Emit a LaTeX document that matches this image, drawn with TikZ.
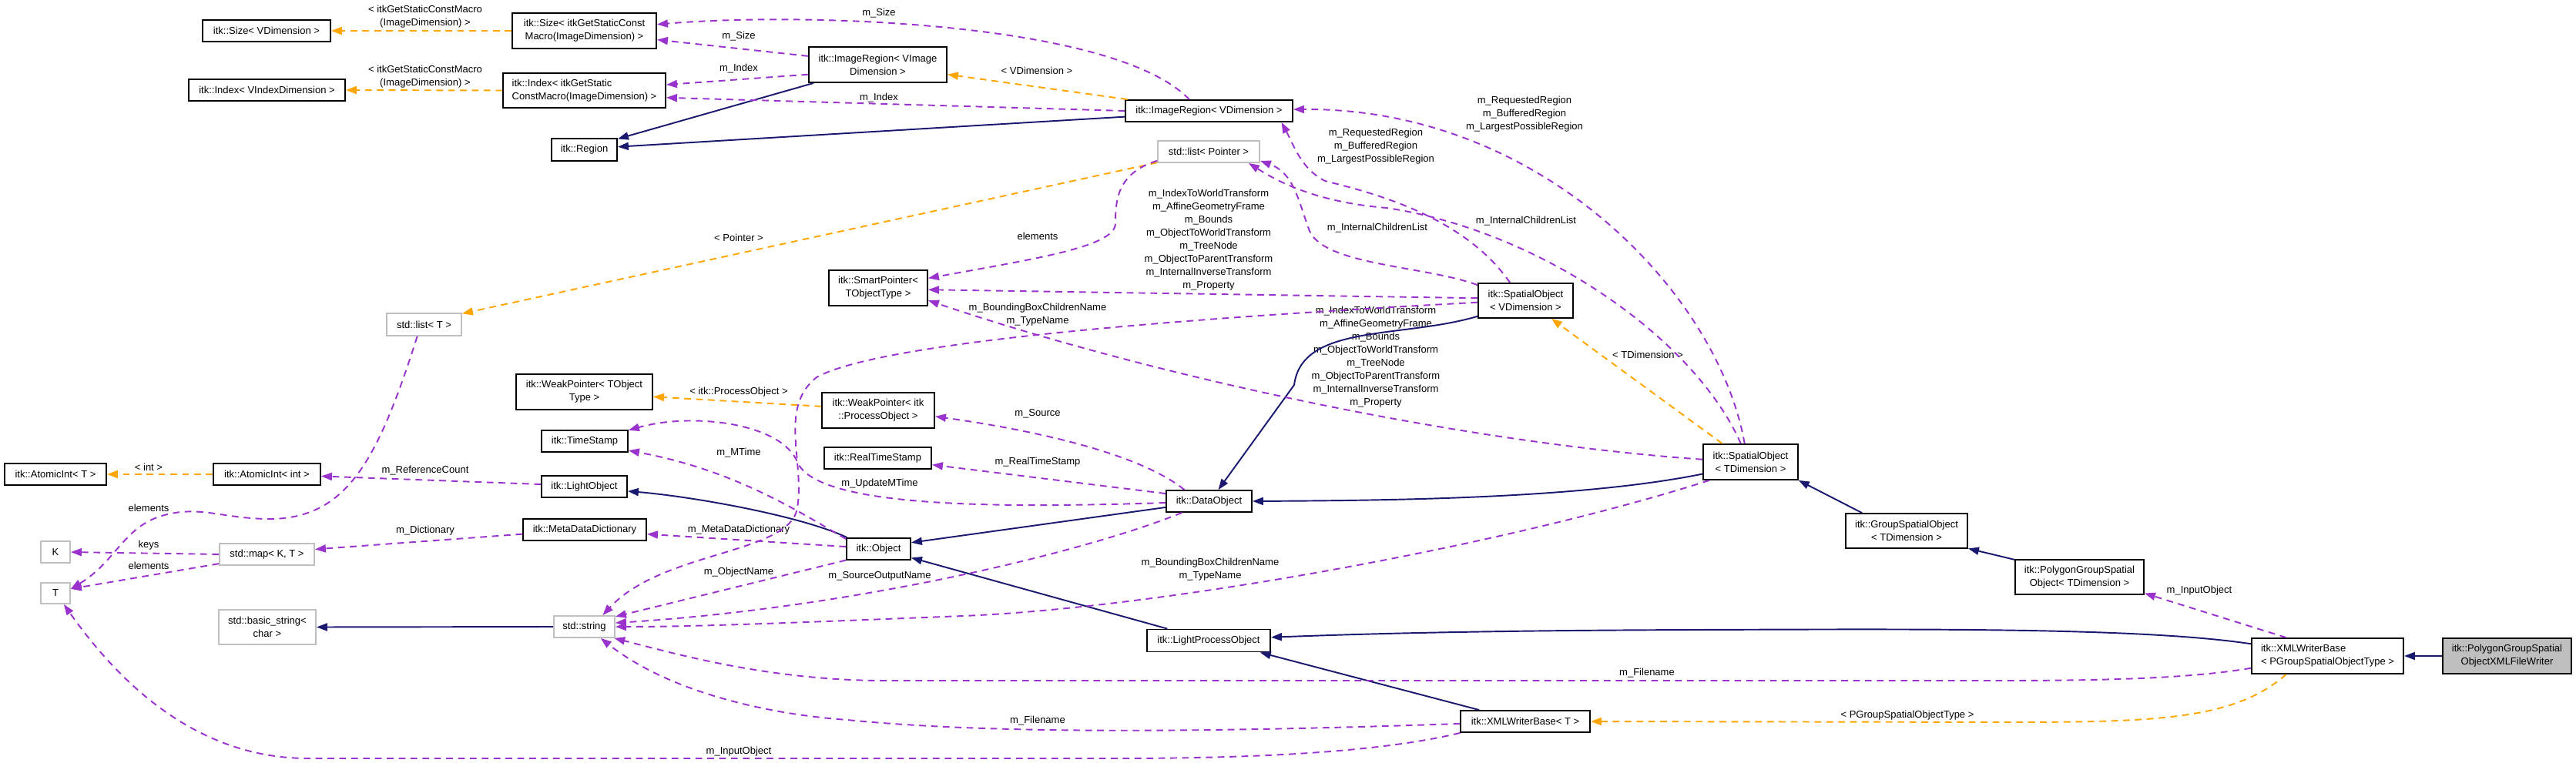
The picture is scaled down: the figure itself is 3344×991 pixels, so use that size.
\documentclass[tikz,border=0pt]{standalone}
\usepackage{fontspec}
\setmainfont{Liberation Sans}
\usetikzlibrary{arrows.meta}
\definecolor{inhcol}{HTML}{191970}
\definecolor{usecol}{HTML}{9A32CD}
\definecolor{tplcol}{HTML}{FFA500}
\definecolor{extcol}{HTML}{BFBFBF}
\begin{document}
\begin{tikzpicture}[x=0.01cm,y=-0.01cm,
    every node/.style={font=\fontsize{3.7}{4.84}\selectfont},
    cls/.style={draw=black,line width=.5pt,inner sep=0pt,align=center,minimum height=.28cm},
    ext/.style={cls,draw=extcol},
    lbl/.style={inner sep=0pt,align=center},
    tip/.style={-{Triangle[length=1.4mm,width=1mm]}},
    inherit/.style={tip,inhcol,line width=.55pt},
    uses/.style={tip,usecol,line width=.55pt,dash pattern=on .87mm off .67mm},
    tmpl/.style={tip,tplcol,line width=.55pt,dash pattern=on .87mm off .67mm}]
\useasboundingbox (0,0) rectangle (3344,991); % pixel grid of the reference

% classes
\node[cls,minimum width=1.66cm] (sizeV) at (346,40) {itk::Size< VDimension >};
\node[cls,minimum width=1.87cm,minimum height=.46cm] (sizeM) at (758.5,40) {itk::Size< itkGetStaticConst\\Macro(ImageDimension) >};
\node[cls,minimum width=2.03cm] (indexV) at (346.5,117) {itk::Index< VIndexDimension >};
\node[cls,minimum width=2.11cm,minimum height=.45cm,align=left] (indexM) at (758.5,117.5) {itk::Index< itkGetStatic\\ConstMacro(ImageDimension) >};
\node[cls,minimum width=.85cm,minimum height=.29cm] (region) at (758.5,194.5) {itk::Region};
\node[ext,minimum width=.97cm,minimum height=.29cm] (listT) at (550.5,421.5) {std::list< T >};
\node[cls,minimum width=1.77cm,minimum height=.46cm] (weakT) at (758.5,509) {itk::WeakPointer< TObject\\Type >};
\node[cls,minimum width=1.12cm] (stamp) at (759,573) {itk::TimeStamp};
\node[cls,minimum width=1.32cm] (atomicT) at (72,616) {itk::AtomicInt< T >};
\node[cls,minimum width=1.39cm] (atomicInt) at (346.5,616) {itk::AtomicInt< int >};
\node[cls,minimum width=1.11cm] (lightObj) at (758.5,632) {itk::LightObject};
\node[cls,minimum width=1.6cm] (metaDict) at (759,688) {itk::MetaDataDictionary};
\node[ext,minimum width=.38cm] (K) at (72,717) {K};
\node[ext,minimum width=1.23cm] (map) at (346.5,720) {std::map< K, T >};
\node[ext,minimum width=.38cm,minimum height=.27cm] (T) at (72,770.5) {T};
\node[ext,minimum width=1.26cm,minimum height=.45cm] (basicStr) at (347,814.5) {std::basic\_string<\\char >};
\node[ext,minimum width=.79cm] (str) at (758.5,814) {std::string};
\node[cls,minimum width=1.79cm,minimum height=.46cm] (imgRegV) at (1139.5,84) {itk::ImageRegion< VImage\\Dimension >};
\node[cls,minimum width=2.17cm] (imgReg) at (1569.5,144) {itk::ImageRegion< VDimension >};
\node[ext,minimum width=1.32cm] (listPtr) at (1569,197) {std::list< Pointer >};
\node[cls,minimum width=1.28cm,minimum height=.46cm] (smartPtr) at (1140,374) {itk::SmartPointer<\\TObjectType >};
\node[cls,minimum width=1.46cm,minimum height=.46cm] (weakPO) at (1140,533) {itk::WeakPointer< itk\\::ProcessObject >};
\node[cls,minimum width=1.39cm] (realStamp) at (1139.5,595) {itk::RealTimeStamp};
\node[cls,minimum width=1.11cm] (dataObj) at (1569.5,651) {itk::DataObject};
\node[cls,minimum width=.83cm] (obj) at (1140.5,713) {itk::Object};
\node[cls,minimum width=1.6cm,minimum height=.29cm] (lpo) at (1569,832) {itk::LightProcessObject};
\node[cls,minimum width=1.23cm,minimum height=.45cm] (spatialV) at (1980.5,390.5) {itk::SpatialObject\\< VDimension >};
\node[cls,minimum width=1.23cm,minimum height=.46cm] (spatialT) at (2272.5,600) {itk::SpatialObject\\< TDimension >};
\node[cls,minimum width=1.58cm,minimum height=.45cm] (groupSO) at (2475,689.5) {itk::GroupSpatialObject\\< TDimension >};
\node[cls,minimum width=1.68cm] (xmlT) at (1980,937) {itk::XMLWriterBase< T >};
\node[cls,minimum width=1.67cm,minimum height=.45cm] (polyGroup) at (2699.5,749.5) {itk::PolygonGroupSpatial\\Object< TDimension >};
\node[cls,minimum width=1.97cm,minimum height=.46cm,align=left] (xmlP) at (3021.5,852) {itk::XMLWriterBase\\< PGroupSpatialObjectType >};
\node[cls,fill=extcol,minimum width=1.67cm,minimum height=.46cm] (writer) at (3254.5,852) {itk::PolygonGroupSpatial\\ObjectXMLFileWriter};

% edge labels
\foreach \nm/\x/\y/\txt in {
    lMacroA/552/22/{< itkGetStaticConstMacro\\(ImageDimension) >},
    lMacroB/552/99.5/{< itkGetStaticConstMacro\\(ImageDimension) >},
    lSizeA/1141/17/{m\_Size},
    lSizeB/959/47/{m\_Size},
    lIndexA/959/89/{m\_Index},
    lIndexB/1141/127/{m\_Index},
    lVDim/1346/92/{< VDimension >},
    lPointer/959/309/{< Pointer >},
    lElemA/1347/307/{elements},
    lTransA/1569/311.5/{m\_IndexToWorldTransform\\m\_AffineGeometryFrame\\m\_Bounds\\m\_ObjectToWorldTransform\\m\_TreeNode\\m\_ObjectToParentTransform\\m\_InternalInverseTransform\\m\_Property},
    lNameA/1347/408.5/{m\_BoundingBoxChildrenName\\m\_TypeName},
    lRegionA/1979/148/{m\_RequestedRegion\\m\_BufferedRegion\\m\_LargestPossibleRegion},
    lRegionB/1786/190.5/{m\_RequestedRegion\\m\_BufferedRegion\\m\_LargestPossibleRegion},
    lChildA/1981/287/{m\_InternalChildrenList},
    lChildB/1788/296/{m\_InternalChildrenList},
    lTDim/2139/461/{< TDimension >},
    lTransB/1786/463.5/{m\_IndexToWorldTransform\\m\_AffineGeometryFrame\\m\_Bounds\\m\_ObjectToWorldTransform\\m\_TreeNode\\m\_ObjectToParentTransform\\m\_InternalInverseTransform\\m\_Property},
    lInt/193/607/{< int >},
    lRefCount/552/611/{m\_ReferenceCount},
    lElemB/193/660/{elements},
    lDict/552/689/{m\_Dictionary},
    lKeys/193/708/{keys},
    lElemC/193/735/{elements},
    lProcObj/959/509/{< itk::ProcessObject >},
    lSource/1347/537/{m\_Source},
    lMTime/959/588/{m\_MTime},
    lRealStamp/1347/600/{m\_RealTimeStamp},
    lUpdate/1142/628/{m\_UpdateMTime},
    lMetaDict/959/688/{m\_MetaDataDictionary},
    lObjName/959/743/{m\_ObjectName},
    lSrcOut/1142/748/{m\_SourceOutputName},
    lNameB/1571/739.5/{m\_BoundingBoxChildrenName\\m\_TypeName},
    lFileA/1347/936/{m\_Filename},
    lInputA/959/976/{m\_InputObject},
    lFileB/2138/874/{m\_Filename},
    lGroupType/2476/929/{< PGroupSpatialObjectType >},
    lInputB/2855/767/{m\_InputObject}}
    \node[lbl] (\nm) at (\x,\y) {\txt};

% inheritance
\draw[inherit] (imgRegV.196) -- (region.18);
\draw[inherit] (imgReg.184) -- (region.5);
\draw[inherit] (spatialV.198) .. controls (1820,440) and (1690,420) .. (1680,500) -- (dataObj.51);
\draw[inherit] (spatialT.194) .. controls (2050,648) and (1800,650) .. (dataObj.east);
\draw[inherit] (dataObj.188) -- (obj.11);
\draw[inherit] (obj.160) .. controls (1040,670) and (900,645) .. (lightObj.-6);
\draw[inherit] (lpo.164) -- (obj.-15);
\draw[inherit] (xmlT.166) -- (lpo.-13);
\draw[inherit] (xmlP.171) .. controls (2780,815) and (2500,817) .. (2200,818) .. controls (1900,819) and (1750,824) .. (lpo.3);
\draw[inherit] (str.west) -- (basicStr.east);
\draw[inherit] (groupSO.158) -- (spatialT.-21);
\draw[inherit] (polyGroup.165) -- (groupSO.-16);
\draw[inherit] (writer.west) -- (xmlP.east);

% template arguments
\draw[tmpl] (sizeM.west) -- (sizeV.east);
\draw[tmpl] (indexM.west) -- (indexV.east);
\draw[tmpl] (imgReg.172) -- (imgRegV.-8);
\draw[tmpl] (listPtr.192) -- (listT.16);
\draw[tmpl] (spatialT.147) -- (spatialV.-35);
\draw[tmpl] (weakPO.176) -- (weakT.-4.5);
\draw[tmpl] (atomicInt.west) -- (atomicT.east);
\draw[tmpl] (xmlP.204) .. controls (2900,935) and (2800,938) .. (2600,938) -- (xmlT.east);

% members
\draw[uses] (imgReg.150) .. controls (1450,30) and (1050,15) .. (sizeM.5);
\draw[uses] (imgRegV.173) -- (sizeM.-7);
\draw[uses] (imgRegV.188) -- (indexM.4);
\draw[uses] (imgReg.west) -- (indexM.-5);
\draw[uses] (listPtr.190) .. controls (1450,225) and (1448,260) .. (1448,290) .. controls (1448,320) and (1350,335) .. (smartPtr.11);
\draw[uses] (spatialV.177) -- (smartPtr.-2);
\draw[uses] (spatialT.177) .. controls (1900,575) and (1500,490) .. (smartPtr.-14);
\draw[uses] (spatialV.182) .. controls (1600,410) and (1150,440) .. (1060,490) .. controls (1010,530) and (1045,600) .. (1035,660) .. controls (1025,720) and (860,715) .. (str.32);
\draw[uses] (spatialT.204) .. controls (1950,710) and (1500,790) .. (1250,800) .. controls (1000,810) and (900,814) .. (str.east);
\draw[uses] (obj.199) -- (str.18);
\draw[uses] (dataObj.203) .. controls (1400,720) and (1100,790) .. (str.7);
\draw[uses] (xmlP.189) .. controls (2850,880) and (2750,884) .. (2600,884) -- (1150,884) .. controls (1000,884) and (880,850) .. (str.-21);
\draw[uses] (xmlT.182) .. controls (1600,950) and (1300,955) .. (1100,935) .. controls (1000,928) and (870,900) .. (str.-35);
\draw[uses] (xmlT.190) .. controls (1800,975) and (1650,985) .. (1450,985) -- (400,985) .. controls (250,985) and (150,880) .. (T.-53);
\draw[uses] (listT.240) .. controls (490,600) and (450,670) .. (356,674) .. controls (290,675) and (260,655) .. (210,670) .. controls (160,685) and (150,730) .. (T.16);
\draw[uses] (map.191) -- (T.16);
\draw[uses] (map.west) -- (K.east);
\draw[uses] (metaDict.184) -- (map.6);
\draw[uses] (lightObj.177) -- (atomicInt.-2.5);
\draw[uses] (obj.176) -- (metaDict.-4);
\draw[uses] (obj.163) .. controls (1030,660) and (950,610) .. (stamp.-12);
\draw[uses] (dataObj.182) .. controls (1300,660) and (1060,660) .. (1035,600) .. controls (1015,550) and (900,535) .. (stamp.14);
\draw[uses] (dataObj.170) -- (realStamp.-7);
\draw[uses] (dataObj.155) .. controls (1480,590) and (1350,560) .. (weakPO.-6);
\draw[uses] (xmlP.156) -- (polyGroup.-14);
\draw[uses] (spatialT.108) .. controls (2230,380) and (2000,140) .. (imgReg.1);
\draw[uses] (spatialT.118) .. controls (2200,440) and (2000,300) .. (1800,270) .. controls (1700,262) and (1650,230) .. (listPtr.-16);
\draw[uses] (spatialV.131) .. controls (1900,280) and (1780,250) .. (1720,235) .. controls (1690,220) and (1680,190) .. (imgReg.-9);
\draw[uses] (spatialV.162) .. controls (1850,345) and (1720,345) .. (1700,300) .. controls (1685,260) and (1680,225) .. (listPtr.-10);
\end{tikzpicture}
\end{document}
